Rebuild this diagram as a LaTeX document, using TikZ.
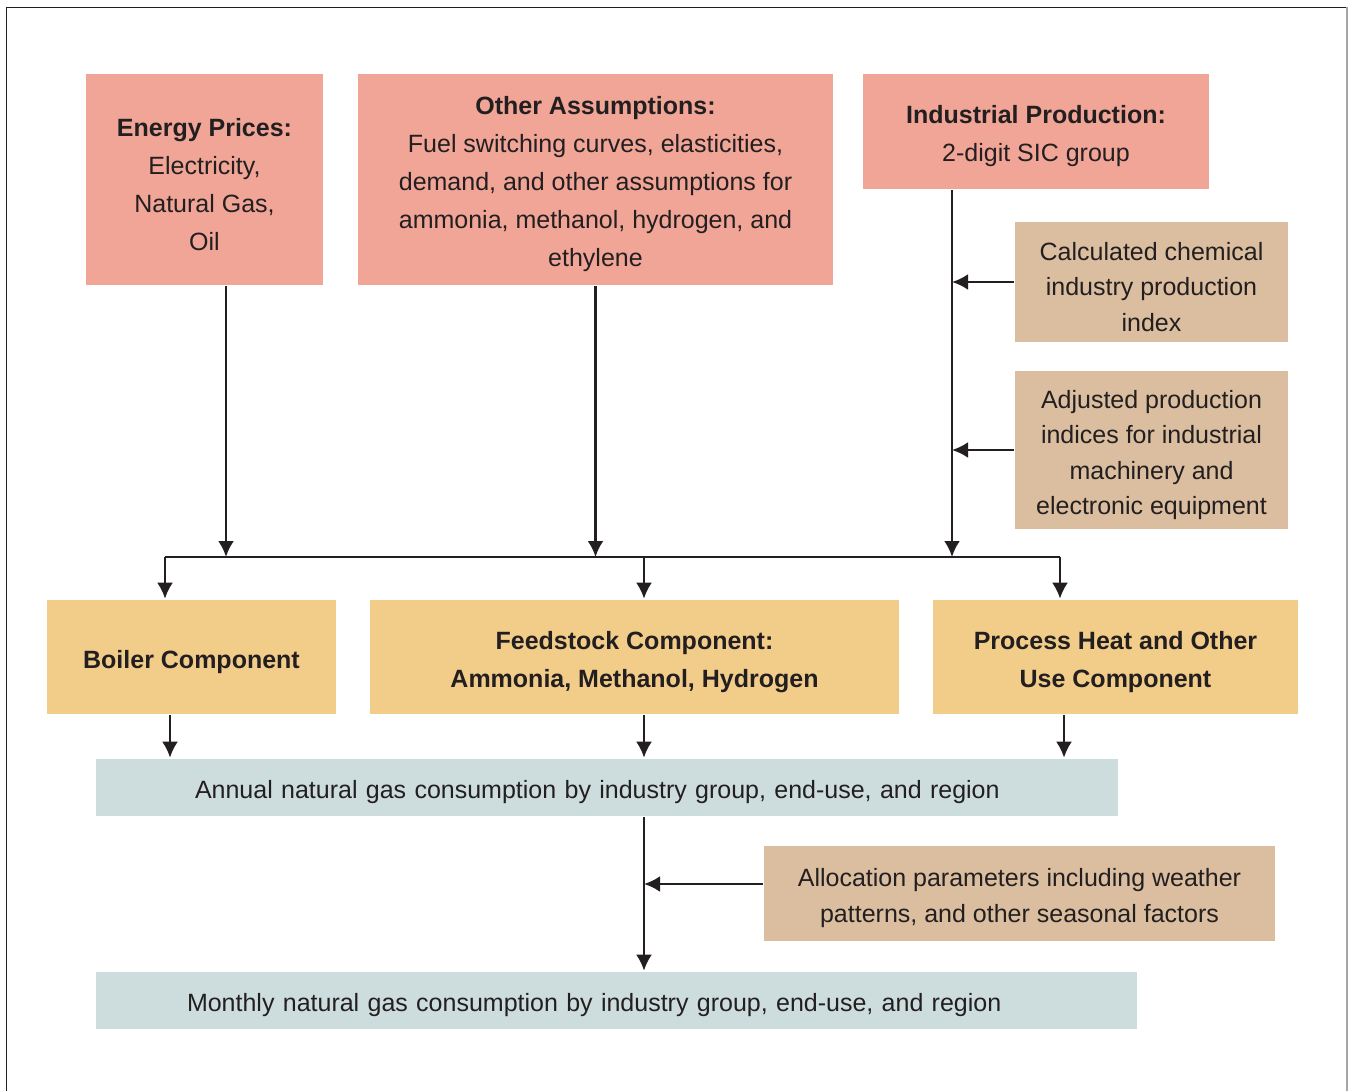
\documentclass[tikz,border=0pt]{standalone}
\usepackage{fontspec}
\setmainfont{Liberation Sans}
\usetikzlibrary{arrows.meta}

\definecolor{inkgray}{HTML}{231F20}
\definecolor{inputpink}{HTML}{F0A597}
\definecolor{indextan}{HTML}{DABE9F}
\definecolor{partyellow}{HTML}{F2CD89}
\definecolor{resultblue}{HTML}{CDDDDD}

% extra room above the first line, so the text sits a little lower in its box
\newcommand{\toproom}{\rule{0pt}{14pt}}

\begin{document}
\begin{tikzpicture}[x=0.5pt,y=-0.5pt,>={Latex[length=8pt,width=8pt]},
 line width=1.3pt,draw=inkgray,text=inkgray,
 font=\fontsize{12.5}{19}\selectfont,
 inputbox/.style={fill=inputpink,align=center,inner sep=0pt},
 indexbox/.style={fill=indextan,align=center,inner sep=0pt,
   font=\fontsize{12.5}{17.75}\selectfont},
 partbox/.style={fill=partyellow,align=center,inner sep=0pt,font=\fontsize{12.5}{19}\selectfont\bfseries},
 resultbox/.style={fill=resultblue,align=left,inner ysep=0pt,minimum height=28.5pt}]
\useasboundingbox (0,0) rectangle (1349,1091);

% frame
\draw[line width=0.75pt] (6.5,1100) -- (6.5,7.5) -- (1347,7.5);
\draw[line width=0.75pt,draw=gray!70] (1347,7.5) -- (1347,1100);

% inputs
\node[inputbox,minimum width=118.5pt,minimum height=105.5pt] (energy) at (204.5,179.5)
 {\toproom\textbf{Energy Prices:}\\Electricity,\\Natural Gas,\\Oil};
\node[inputbox,minimum width=237.5pt,minimum height=105.5pt] (assume) at (595.5,179.5)
 {\toproom\textbf{Other Assumptions:}\\Fuel switching curves, elasticities,\\demand, and other assumptions for\\ammonia, methanol, hydrogen, and\\ethylene};
\node[inputbox,minimum width=173pt,minimum height=57.5pt] (indprod) at (1036,131.5)
 {\toproom\textbf{Industrial Production:}\\2-digit SIC group};
\node[indexbox,minimum width=136.5pt,minimum height=60pt] (chemidx) at (1151.5,282)
 {\toproom Calculated chemical\\industry production\\index};
\node[indexbox,minimum width=136.5pt,minimum height=79pt] (machidx) at (1151.5,450)
 {\toproom Adjusted production\\indices for industrial\\machinery and\\electronic equipment};

% components
\node[partbox,minimum width=144.5pt,minimum height=57pt] (boiler) at (191.5,657)
 {\toproom Boiler Component};
\node[partbox,minimum width=264.5pt,minimum height=57pt] (feed) at (634.5,657)
 {\toproom Feedstock Component:\\Ammonia, Methanol, Hydrogen};
\node[partbox,minimum width=182.5pt,minimum height=57pt] (procheat) at (1115.5,657)
 {\toproom Process Heat and Other\\Use Component};

% results
\node[resultbox,inner xsep=49.5pt,text width=412pt] (annual) at (607,787.5)
 {\toproom Annual natural gas consumption by industry group, end-use, and region};
\node[indexbox,minimum width=255.5pt,minimum height=47.5pt,font=\fontsize{12.5}{18}\selectfont] (alloc) at (1019.5,893.5)
 {\toproom Allocation parameters including weather\\patterns, and other seasonal factors};
\node[resultbox,inner xsep=45.5pt,text width=429.5pt] (monthly) at (616.5,1000.5)
 {\toproom Monthly natural gas consumption by industry group, end-use, and region};

% bus line
\coordinate (busL) at (165,557);
\coordinate (busE) at (226,557);
\coordinate (busM) at (644,557);
\coordinate (busI) at (952,557);
\coordinate (busR) at (1060,557);
\draw (busL) -- (busR);

\draw[->] (energy.south -| busE) -- (busE);
\draw[->] (assume.south) -- (assume.south |- busE);
\draw[->] (indprod.south -| busI) -- (busI);
\draw[->] (chemidx.west) -- (chemidx.west -| busI);
\draw[->] (machidx.west) -- (machidx.west -| busI);

\draw[->] (busL) -- (busL |- boiler.north);
\draw[->] (busM) -- (busM |- feed.north);
\draw[->] (busR) -- (busR |- procheat.north);

\draw[->] ([xshift=2.5pt]boiler.south -| busL) -- ([xshift=2.5pt]annual.north -| busL);
\draw[->] (feed.south -| busM) -- (annual.north -| busM);
\draw[->] ([xshift=2pt]procheat.south -| busR) -- ([xshift=2pt]annual.north -| busR);

\path ([yshift=4.75pt]alloc.west) coordinate (allocin);
\draw[->] (annual.south -| busM) -- (monthly.north -| busM);
\draw[->] (allocin) -- (allocin -| busM);
\end{tikzpicture}
\end{document}
